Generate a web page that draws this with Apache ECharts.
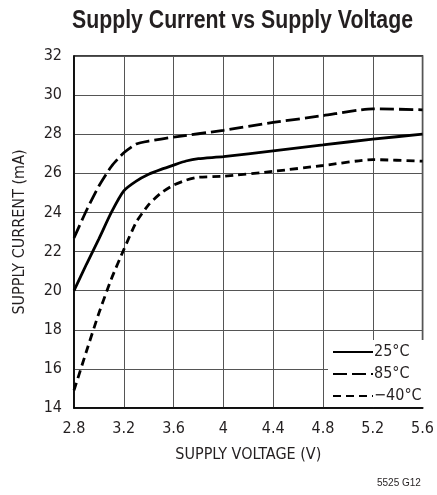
<!DOCTYPE html>
<html>
<head>
<meta charset="utf-8">
<script src="https://cdn.jsdelivr.net/npm/echarts@6/dist/echarts.min.js"></script>
<style>
html,body{margin:0;padding:0;background:#fff;}
#chart{width:437px;height:495px;}
</style>
</head>
<body>
<div id="chart"></div>
<script>
var NARROW = "'Liberation Sans Narrow','DejaVu Sans Condensed',sans-serif";
var TEXT = '#231f20';

var titleText = 'Supply Current vs Supply Voltage';
var seriesNames = ['25°C', '85°C', '−40°C'];
var xTicks = [2.8, 3.2, 3.6, 4, 4.4, 4.8, 5.2, 5.6];
var yTicks = [14, 16, 18, 20, 22, 24, 26, 28, 30, 32];

var v25 = [2.8, 2.9, 3.0, 3.1, 3.2, 3.3, 3.4, 3.5, 3.6, 3.7, 3.8, 4.0, 4.4, 4.8, 5.2, 5.6];
var i25 = [20.0, 21.35, 22.65, 24.0, 25.1, 25.6, 25.95, 26.2, 26.42, 26.63, 26.75, 26.85, 27.15, 27.45, 27.75, 28.0];

var v85 = [2.8, 2.9, 3.0, 3.1, 3.2, 3.3, 3.4, 3.6, 4.0, 4.4, 4.8, 5.2, 5.6];
var i85 = [22.7, 24.1, 25.35, 26.35, 27.05, 27.5, 27.65, 27.85, 28.2, 28.6, 28.95, 29.3, 29.25];

var vM40 = [2.8, 2.9, 3.0, 3.1, 3.2, 3.3, 3.4, 3.5, 3.6, 3.7, 3.8, 4.0, 4.4, 4.8, 5.2, 5.6];
var iM40 = [14.9, 16.9, 18.85, 20.6, 22.1, 23.5, 24.4, 25.0, 25.4, 25.65, 25.8, 25.85, 26.1, 26.4, 26.7, 26.62];

function pairs(xs, ys) { return xs.map(function (x, k) { return [x, ys[k]]; }); }

// condensed title: measure and squeeze horizontally to the reference width
var titleFont = "bold 25px 'Liberation Sans', Arial, sans-serif";
var ctx = document.createElement('canvas').getContext('2d');
ctx.font = titleFont;
var titleW = ctx.measureText(titleText).width;
var titleScale = 341 / titleW;

var chart = echarts.init(document.getElementById('chart'), null, {renderer: 'canvas'});
chart.setOption({
  animation: false,
  backgroundColor: '#fff',
  grid: {left: 74, right: 10, top: 56, bottom: 87, show: true, borderColor: '#000', borderWidth: 1.5, backgroundColor: 'transparent'},
  legend: {
    orient: 'vertical',
    left: 328, top: 340,
    padding: [4, 4, 3, 4],
    backgroundColor: '#fff',
    itemWidth: 40, itemHeight: 14, itemGap: 6,
    itemStyle: {opacity: 0},
    textStyle: {fontFamily: NARROW, fontSize: 16, color: TEXT, padding: [0, 0, 0, -4], lineHeight: 14},
    data: seriesNames
  },
  xAxis: {
    type: 'value', min: xTicks[0], max: xTicks[xTicks.length - 1], interval: 0.4,
    name: 'SUPPLY VOLTAGE (V)', nameLocation: 'middle', nameGap: 39,
    nameTextStyle: {fontFamily: NARROW, fontSize: 16, color: TEXT},
    axisLine: {show: true, lineStyle: {color: '#000', width: 1.5}},
    axisTick: {show: false},
    axisLabel: {fontFamily: NARROW, fontSize: 16, color: TEXT, margin: 13,
      formatter: function (v) { return String(Number(v.toFixed(1))); }},
    splitLine: {show: true, lineStyle: {color: '#555', width: 1}}
  },
  yAxis: {
    type: 'value', min: yTicks[0], max: yTicks[yTicks.length - 1], interval: 2,
    name: 'SUPPLY CURRENT (mA)', nameLocation: 'middle', nameGap: 46,
    nameTextStyle: {fontFamily: NARROW, fontSize: 16, color: TEXT},
    axisLine: {show: true, lineStyle: {color: '#000', width: 1.5}},
    axisTick: {show: false},
    axisLabel: {fontFamily: NARROW, fontSize: 16, color: TEXT, margin: 12},
    splitLine: {show: true, lineStyle: {color: '#555', width: 1}}
  },
  graphic: [{
    type: 'text', x: 72, y: 9, scaleX: titleScale,
    style: {text: titleText, font: titleFont, fill: TEXT}
  }, {
    type: 'text', left: 377, top: 478,
    style: {text: '5525 G12', font: "10px 'Liberation Sans', Arial, sans-serif", fill: TEXT}
  }],
  series: [
    {name: seriesNames[0], type: 'line', data: pairs(v25, i25), symbol: 'none', smooth: 0.2,
     itemStyle: {color: '#000'}, lineStyle: {color: '#000', width: 2.8, type: 'solid'}, z: 3},
    {name: seriesNames[1], type: 'line', data: pairs(v85, i85), symbol: 'none', smooth: 0.2,
     itemStyle: {color: '#000'}, lineStyle: {color: '#000', width: 2.8, type: [14, 5]}, z: 3},
    {name: seriesNames[2], type: 'line', data: pairs(vM40, iM40), symbol: 'none', smooth: 0.2,
     itemStyle: {color: '#000'}, lineStyle: {color: '#000', width: 2.8, type: [8, 5]}, z: 3}
  ]
});
</script>
</body>
</html>
